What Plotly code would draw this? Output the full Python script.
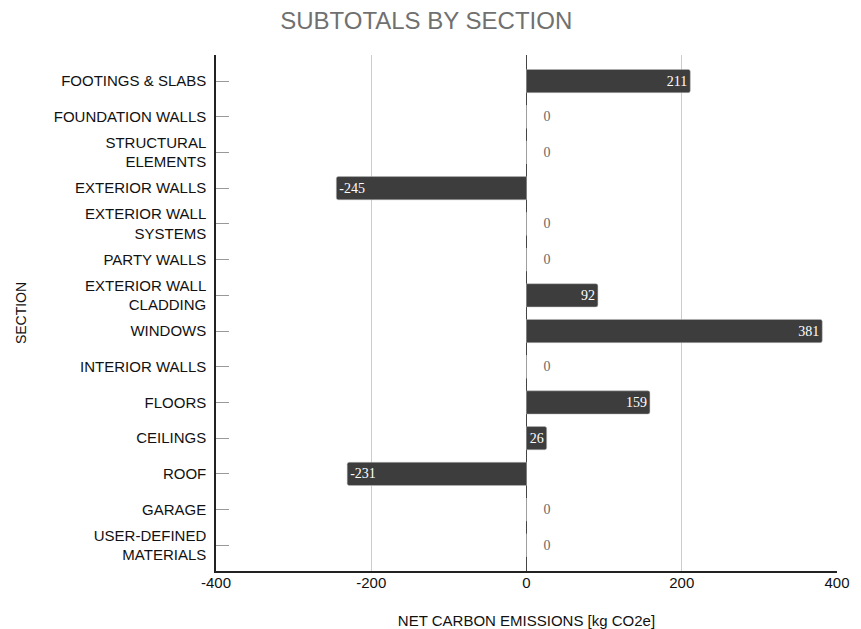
import plotly.graph_objects as go

sections = [
    "FOOTINGS & SLABS", "FOUNDATION WALLS", "STRUCTURAL<br>ELEMENTS", "EXTERIOR WALLS",
    "EXTERIOR WALL<br>SYSTEMS", "PARTY WALLS", "EXTERIOR WALL<br>CLADDING", "WINDOWS",
    "INTERIOR WALLS", "FLOORS", "CEILINGS", "ROOF", "GARAGE", "USER-DEFINED<br>MATERIALS",
]
values = [211, 0, 0, -245, 0, 0, 92, 381, 0, 159, 26, -231, 0, 0]
x_ticks = [-400, -200, 0, 200, 400]

labels = [("\u00a0" * 4 + str(v)) if v == 0 else str(v) for v in values]
positions = ["inside" if v != 0 else "outside" for v in values]

fig = go.Figure(go.Bar(
    x=values, y=sections, orientation="h",
    marker=dict(color="#3d3d3d", line=dict(color="#bdbdbd", width=0.5)),
    width=0.65,
    text=labels, textposition=positions, insidetextanchor="end",
    insidetextfont=dict(family="Liberation Serif", size=14, color="white"),
    outsidetextfont=dict(family="Liberation Serif", size=14, color="#6a6a6a"),
    textangle=0, cliponaxis=False,
))

fig.update_layout(
    width=861, height=629,
    margin=dict(l=216, r=24, t=55, b=58, autoexpand=False),
    paper_bgcolor="white", plot_bgcolor="white",
    barcornerradius=2,
    title=dict(text="SUBTOTALS BY SECTION", x=0.495, xanchor="center", y=0.968, yanchor="middle",
               font=dict(family="Liberation Sans, Arial", size=24, color="#707070")),
    font=dict(family="Liberation Sans, Arial", size=15, color="#111111"),
    showlegend=False,
)
fig.update_xaxes(
    automargin=False,
    range=[-400, 400], tickvals=x_ticks, ticktext=[str(t) for t in x_ticks],
    showgrid=True, gridcolor="#cccccc", gridwidth=1,
    zeroline=True, zerolinecolor="#444444", zerolinewidth=1,
    showline=True, linecolor="#222222", linewidth=1.5,
    ticks="", tickfont=dict(size=15, color="#111111"), ticklabelstandoff=-3,
    title=dict(text="NET CARBON EMISSIONS [kg CO2e]", font=dict(size=15, color="#111111"), standoff=26),
)
fig.update_yaxes(
    automargin=False,
    categoryorder="array", categoryarray=sections,
    range=[13.72, -0.73], autorange=False,
    showline=True, linecolor="#222222", linewidth=1.5,
    ticks="inside", ticklen=13, tickcolor="#999999", tickwidth=1,
    ticklabelstandoff=5,
    showgrid=False, tickfont=dict(size=15, color="#111111"),
    title=dict(text="SECTION", font=dict(size=14, color="#111111"), standoff=24),
)

fig.write_html("out.html")
